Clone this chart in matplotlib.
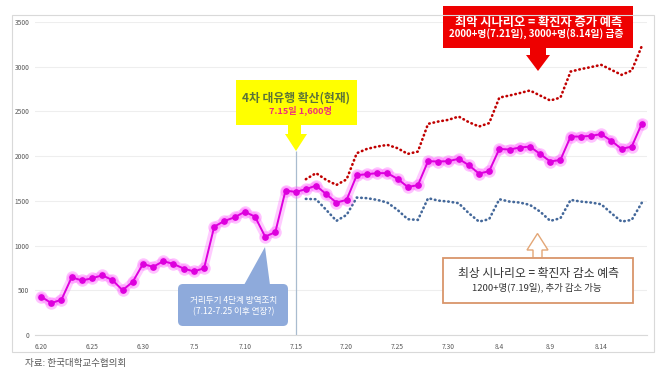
import matplotlib
matplotlib.use('Agg')
import matplotlib.pyplot as plt
from matplotlib.patches import Rectangle, Polygon, FancyBboxPatch

plt.rcParams['font.family'] = ['Noto Sans CJK KR', 'DejaVu Sans']

# 날짜 (6.20 ~ 8.18)
dates = ([f'6.{d}' for d in range(20, 31)] +
         [f'7.{d}' for d in range(1, 32)] +
         [f'8.{d}' for d in range(1, 19)])

# 확진자 (실제 + 예측 추세)
cases = [429, 357, 395, 645, 610, 634, 668, 614, 501, 595, 794,
         762, 826, 794, 743, 711, 746, 1212, 1275, 1316, 1378, 1324, 1100, 1150, 1615, 1600,
         1630, 1671, 1574, 1481, 1511, 1787, 1798, 1810, 1810, 1746, 1656, 1675, 1944, 1940, 1944, 1970,
         1899, 1805, 1832, 2081, 2074, 2096, 2107, 2025, 1940, 1958, 2219, 2219, 2227, 2246, 2171, 2081, 2107, 2365]

# 시나리오 (7.16 ~ 8.18)
scen_start = 26
worst = [1742, 1810, 1734, 1678, 1740, 2033, 2081, 2107, 2126, 2089, 2025, 2051, 2361, 2387, 2406, 2443,
         2380, 2331, 2369, 2655, 2678, 2705, 2734, 2678, 2622, 2655, 2946, 2973, 2996, 3021, 2965, 2909, 2957, 3234]
best = [1522, 1518, 1399, 1276, 1343, 1537, 1530, 1511, 1481, 1399, 1295, 1287, 1530, 1503, 1492, 1474,
        1362, 1268, 1295, 1518, 1492, 1481, 1455, 1380, 1276, 1306, 1511, 1492, 1481, 1462, 1362, 1268, 1287, 1481]

yticks = [0, 500, 1000, 1500, 2000, 2500, 3000, 3500]

W, H = 668, 385
fig = plt.figure(figsize=(W / 100, H / 100), dpi=100)
fig.patch.set_facecolor('white')

ax = fig.add_axes([35 / W, 1 - 335 / H, (647 - 35) / W, (335 - 22) / H])
x = list(range(len(dates)))
xs = list(range(scen_start, scen_start + len(worst)))

# 글로우 효과
ax.plot(x, cases, color='#ff55ff', lw=6, alpha=0.3, solid_capstyle='round', zorder=3)
ax.plot(x, cases, 'o', color='#ff55ff', ms=9, alpha=0.35, mec='none', zorder=3)
ax.plot(x, cases, color='#dd00dd', lw=1.4, marker='o', ms=3.8, mec='#dd00dd', zorder=4)

ax.plot(xs, worst, color='#c00000', lw=1.9, ls=(0, (0.2, 1.5)), dash_capstyle='round', zorder=2)
ax.plot(xs, best, color='#44689a', lw=1.9, ls=(0, (0.2, 1.5)), dash_capstyle='round', zorder=2)

# 현재 시점 세로선
ax.vlines(25, 0, 2060, color='#a9bccf', lw=0.9, zorder=1)

ax.set_xlim(-0.6, 59.5)
ax.set_ylim(0, 3500)
ax.set_yticks(yticks)
ax.set_xticks(x[::5])
ax.set_xticklabels(dates[::5])
ax.tick_params(axis='both', length=0, labelsize=4.8, colors='#595959')
ax.tick_params(axis='x', pad=6)
ax.tick_params(axis='y', pad=4)
ax.grid(axis='y', color='#eeeeee', lw=0.8)
ax.set_axisbelow(True)
for s in ['top', 'right', 'left']:
    ax.spines[s].set_visible(False)
ax.spines['bottom'].set_color('#d9d9d9')
ax.spines['bottom'].set_linewidth(0.8)

# 외곽 테두리
fig.patches.append(Rectangle((12 / W, 1 - 352 / H), (654 - 12) / W, (352 - 15) / H,
                             transform=fig.transFigure, fill=False, ec='#d9d9d9', lw=0.8))

# 주석용 오버레이 (픽셀 좌표)
ov = fig.add_axes([0, 0, 1, 1])
ov.set_xlim(0, W)
ov.set_ylim(H, 0)
ov.axis('off')
ov.patch.set_alpha(0)

# 노란 박스 + 화살표
ov.add_patch(Rectangle((236, 80), 121, 45, fc='#ffff00', ec='none'))
ov.add_patch(Polygon([(288, 124), (301, 124), (301, 134), (307, 134), (296, 151),
                      (285, 134), (288, 134)], closed=True, fc='#ffff00', ec='none'))
ov.text(296, 98, '4차 대유행 확산(현재)', ha='center', va='center', fontsize=8.5,
        fontweight='bold', color='#5b7339')
ov.text(300, 110, '7.15일 1,600명', ha='center', va='center', fontsize=6.6,
        fontweight='bold', color='#f0307a')

# 빨간 박스 + 화살표
ov.add_patch(Rectangle((443, 6), 190, 42, fc='#ee0000', ec='none'))
ov.add_patch(Polygon([(530, 47), (546, 47), (546, 55), (550, 55), (538, 71),
                      (526, 55), (530, 55)], closed=True, fc='#ee0000', ec='none'))
ov.text(539, 22.5, '최악 시나리오 = 확진자 증가 예측', ha='center', va='center', fontsize=8.8,
        fontweight='bold', color='white')
ov.text(536, 34, '2000+명(7.21일), 3000+명(8.14일) 급증', ha='center', va='center', fontsize=7,
        fontweight='bold', color='white')

# 거리두기 말풍선
ov.add_patch(FancyBboxPatch((178, 284), 110, 42, boxstyle='round,pad=0,rounding_size=5',
                            fc='#8eaadb', ec='none'))
ov.add_patch(Polygon([(244, 285), (270, 285), (265, 247)], closed=True, fc='#8eaadb', ec='none'))
ov.text(234, 301, '거리두기 4단계 방역조치', ha='center', va='center', fontsize=6.2, color='white')
ov.text(234, 312, '(7.12-7.25 이후 연장?)', ha='center', va='center', fontsize=6.2, color='white')

# 최상 시나리오 박스 + 빈 화살표
ov.add_patch(Polygon([(533, 257.5), (533, 250), (527, 250), (537.5, 233.5), (548, 250),
                      (542, 250), (542, 257.5)], closed=False, fc='white', ec='#e3a676', lw=1))
ov.add_patch(Rectangle((443, 257.5), 190, 45, fc='white', ec='#d9956a', lw=1.3))
ov.text(538, 273, '최상 시나리오 = 확진자 감소 예측', ha='center', va='center', fontsize=8.5,
        color='#333333')
ov.text(537, 287, '1200+명(7.19일), 추가 감소 가능', ha='center', va='center', fontsize=6.8,
        color='#333333')

# 출처
ov.text(25, 363, '자료: 한국대학교수협의회', ha='left', va='center', fontsize=6.9, color='#595959')

fig.savefig('out.png', dpi=100, facecolor='white')
